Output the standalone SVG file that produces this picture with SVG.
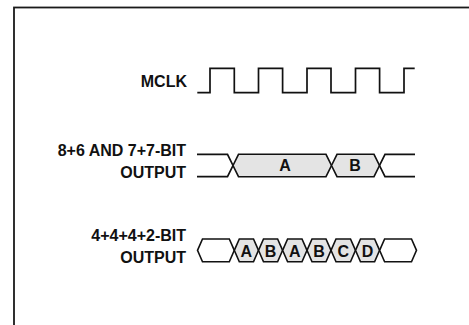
<svg xmlns="http://www.w3.org/2000/svg" width="469" height="325" viewBox="0 0 469 325">
<style>
.lbl{font-family:"Liberation Sans",Arial,sans-serif;font-weight:bold;font-size:16px;fill:#111;text-anchor:end}
.cell{font-family:"Liberation Sans",Arial,sans-serif;font-weight:bold;font-size:16px;fill:#111;text-anchor:middle}
.wave{fill:none;stroke:#111;stroke-width:1.7;stroke-linejoin:miter}
.hexw{fill:#fff;stroke:#111;stroke-width:1.6}
.hexg{fill:#e4e4e4;stroke:#111;stroke-width:1.6}
</style>
<rect x="0" y="0" width="469" height="325" fill="#fff"/>
<rect id="frame" x="14" y="7.5" width="500" height="400" fill="none" stroke="#1a1a1a" stroke-width="1.8"/>
<g id="mclk">
<text class="lbl" x="187" y="86.5" font-size="17.5">MCLK</text>
<path class="wave" d="M197.3,92.7 H210 V68.3 H234.3 V92.7 H258.5 V68.3 H282.6 V92.7 H307 V68.3 H331 V92.7 H355.5 V68.3 H379.6 V92.7 H404 V68.3 H414.7"/>
</g>
<g id="out14">
<text class="lbl" x="186" y="156">8+6 AND 7+7-BIT</text>
<text class="lbl" x="186" y="178">OUTPUT</text>
<path class="wave" d="M197,154.3 H227.5 L233,165.5 L227.5,176.7 H197"/>
<polygon class="hexg" points="233,165.5 238.5,154.3 326,154.3 331.5,165.5 326,176.7 238.5,176.7"/>
<text class="cell" x="285" y="171.2">A</text>
<polygon class="hexg" points="331.5,165.5 337,154.3 374,154.3 379.5,165.5 374,176.7 337,176.7"/>
<text class="cell" x="355" y="171.2">B</text>
<path class="wave" d="M415,154.3 H385 L379.5,165.5 L385,176.7 H415"/>
</g>
<g id="out4">
<text class="lbl" x="186" y="241">4+4+4+2-BIT</text>
<text class="lbl" x="186" y="262.5">OUTPUT</text>
<polygon class="hexw" points="197.5,250.35 202.5,239 229.3,239 234.3,250.35 229.3,261.7 202.5,261.7"/>
<polygon class="hexg" points="234.3,250.35 239.3,239 253.5,239 258.5,250.35 253.5,261.7 239.3,261.7"/>
<polygon class="hexg" points="258.5,250.35 263.5,239 277.6,239 282.6,250.35 277.6,261.7 263.5,261.7"/>
<polygon class="hexg" points="282.6,250.35 287.6,239 302,239 307,250.35 302,261.7 287.6,261.7"/>
<polygon class="hexg" points="307,250.35 312,239 326,239 331,250.35 326,261.7 312,261.7"/>
<polygon class="hexg" points="331,250.35 336,239 350.5,239 355.5,250.35 350.5,261.7 336,261.7"/>
<polygon class="hexg" points="355.5,250.35 360.5,239 374.6,239 379.6,250.35 374.6,261.7 360.5,261.7"/>
<polygon class="hexw" points="379.6,250.35 384.6,239 411.5,239 416.5,250.35 411.5,261.7 384.6,261.7"/>
<text class="cell" x="246.4" y="256.5" font-size="17">A</text>
<text class="cell" x="270.55" y="256.5" font-size="17">B</text>
<text class="cell" x="294.8" y="256.5" font-size="17">A</text>
<text class="cell" x="319" y="256.5" font-size="17">B</text>
<text class="cell" x="343.25" y="256.5" font-size="17">C</text>
<text class="cell" x="367.55" y="256.5" font-size="17">D</text>
</g>
<g id="connectors"></g>
</svg>
